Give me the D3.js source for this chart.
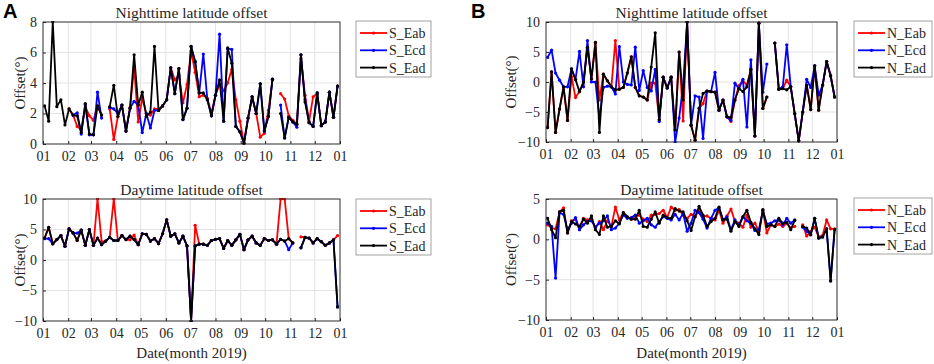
<!DOCTYPE html>
<html><head><meta charset="utf-8">
<script src="https://cdn.jsdelivr.net/npm/d3@7"></script>
<style>
body{margin:0;background:#fff}
svg{display:block;font-family:"Liberation Serif","Times New Roman",serif}
</style></head><body>
<svg id="chart" width="934" height="364"></svg>
<script>
// observation days (days after 1 Jan 2019)
const days = [2,7,12,17,22,27,32,37,42,47, 52,57,62,67,72,77,82,87,92,97,
  102,107,112,117,122,127,132,137,142,147, 152,157,162,167,172,177,182,187,192,197,
  202,207,212,217,222,227,232,237,242,247, 252,257,262,267,272,277,282,287,292,297,
  302,307,312,317,322,327,332,337,342,347, 352,357,362];

// A: southern hemisphere, nighttime
const sEabN = [null,null,null,null,null,null,2.3,1.9,1.15,0.95,
  2.45,1.85,1.55,2.5,1.9,null,2.3,0.3,1.8,2.55,
  0.85,2.4,5.0,1.45,3.0,2.0,1.9,2.3,2.3,2.5,
  2.9,5.0,4.2,4.5,2.7,3.9,6.1,4.7,3.1,3.2,
  3.0,2.0,3.2,3.9,3.5,4.0,4.9,2.9,1.5,0.05,
  1.7,3.1,2.0,0.45,0.7,2.2,4.2,null,3.3,2.95,
  1.85,1.55,1.3,5.6,3.2,1.5,3.1,3.3,1.2,1.45,
  3.4,1.75,3.8];
const sEcdN = [null,null,null,null,null,null,null,1.9,2.05,0.65,
  2.6,0.6,0.6,3.4,1.7,null,2.4,2.3,2.0,2.55,
  0.85,2.35,2.8,2.55,0.75,2.0,1.05,2.2,2.2,2.5,
  2.9,5.0,3.3,4.95,1.6,2.35,6.4,5.4,3.35,5.9,
  2.9,1.85,3.2,7.2,1.5,6.25,6.2,1.15,0.8,0.05,
  1.7,3.1,2.0,3.95,0.85,1.8,4.25,null,2.55,0.4,
  1.75,1.45,1.1,5.85,2.9,1.4,1.15,3.35,1.2,1.45,
  3.4,1.75,3.8];
const sEadN = [2.5,1.5,8.0,2.45,2.9,1.25,2.3,1.9,1.85,0.75,
  2.65,0.65,0.6,2.5,1.9,null,2.45,3.85,1.8,2.55,
  0.85,2.35,5.85,2.55,3.4,1.8,2.1,6.4,2.2,2.5,
  2.9,5.0,3.3,4.95,1.6,2.35,6.4,5.4,3.35,3.35,
  2.9,1.85,3.2,4.2,1.5,6.3,5.3,1.15,0.8,0.05,
  1.7,3.1,2.0,3.95,0.85,1.8,4.25,null,2.0,0.4,
  1.75,1.45,1.3,5.85,2.75,1.4,1.15,3.35,1.2,1.45,
  3.4,1.75,3.8];

// A: southern hemisphere, daytime
const sEabD = [3.6,5.35,2.65,3.35,4.0,2.25,5.1,4.45,3.2,4.9,
  2.4,5.0,2.4,10,3.0,3.1,3.7,10,3.2,4.0,
  3.35,3.3,4.1,2.5,4.3,4.2,3.1,3.5,2.7,4.3,
  6.6,3.9,4.3,2.8,3.9,2.3,-10,5.7,2.6,2.6,
  2.4,3.2,3.4,3.5,1.9,3.2,2.4,3.3,4.2,1.7,
  3.3,3.9,2.8,2.4,3.5,3.2,3.3,2.6,10,10,
  3.5,2.8,null,3.8,3.7,3.6,2.8,3.5,3.0,2.4,
  2.8,3.3,4.0];
const sEcdD = [3.5,3.5,2.65,3.35,4.0,2.25,5.1,4.4,4.4,4.9,
  2.4,5.0,2.4,3.6,2.5,3.1,3.7,3.2,3.2,4.0,
  3.35,3.9,3.35,2.5,4.3,4.2,3.1,3.5,2.7,4.3,
  6.6,3.9,4.3,2.8,3.9,2.3,-10,2.3,2.6,2.6,
  2.4,3.2,3.4,3.5,1.9,3.2,2.4,3.3,4.2,1.7,
  3.3,3.9,2.8,2.4,3.5,3.2,3.3,2.6,3.4,3.1,
  1.7,2.8,null,2.0,3.7,3.6,2.8,3.5,3.0,2.4,
  2.8,3.3,-7.7];
const sEadD = [3.6,5.35,2.65,3.35,4.0,2.25,5.1,4.45,3.2,4.9,
  2.4,5.0,2.4,3.6,2.5,3.1,3.7,3.2,3.2,4.0,
  3.35,3.9,3.35,2.5,4.3,4.2,3.1,3.5,2.7,4.3,
  6.6,3.9,4.3,2.8,3.9,2.3,-10,2.3,2.6,2.6,
  2.4,3.2,3.4,3.5,1.9,3.2,2.4,3.3,4.2,1.7,
  3.3,3.9,2.8,2.4,3.5,3.2,3.3,2.6,3.4,3.1,
  3.5,2.8,null,2.0,3.7,3.6,2.8,3.5,3.0,2.4,
  2.8,3.3,-7.7];

// B: northern hemisphere, nighttime
const nEabN = [-7.6,1.7,-8.4,-4.5,-0.8,-6.4,0.9,-2.6,-1.6,0.0,
  5.8,0.5,6.6,-3.0,1.3,0.2,-0.8,6.9,-1.2,-0.9,
  1.5,4.2,-0.9,-2.3,-2.5,-3.0,-0.2,-0.2,-6.3,0.8,
  -1.0,0.8,-8.0,5.0,-6.5,10,-7.2,-9.7,-4.4,-3.6,
  -1.5,-1.6,-1.7,-4.7,-3.0,-5.8,-6.6,-3.0,-0.6,0.2,
  -0.5,2.1,-9.0,9.8,-4.4,-2.5,null,6.5,-1.2,-1.1,
  0.3,-0.8,-5.3,-9.8,-5.0,-0.5,-4.6,2.7,-4.7,-0.5,
  3.4,1.2,-2.5];
const nEcdN = [4.1,5.3,1.5,0.3,-0.8,-0.8,2.2,0.4,5.1,-0.8,
  6.9,0.0,0.0,-6.1,-0.9,-0.7,-0.8,-2.0,5.9,0.0,
  -0.4,-0.5,5.8,-1.4,1.9,-0.9,-1.5,2.1,-6.6,0.8,
  -1.0,0.8,-10.0,-6.0,-0.5,10,-7.2,-2.3,-2.5,-9.4,
  -1.5,-1.6,1.6,-4.7,-3.0,-5.8,-6.4,-0.2,-1.1,0.45,
  -7.5,3.7,-9.0,9.8,-1.7,3.0,null,6.5,-1.2,-0.8,
  6.2,-0.8,-5.3,-9.8,-5.0,0.45,-0.9,2.7,-2.2,-0.5,
  3.4,1.0,-2.5];
const nEadN = [-7.6,1.7,-8.4,-4.5,-0.8,-6.4,2.2,0.4,-1.6,0.0,
  5.8,0.5,6.6,-8.4,1.3,0.2,-0.8,-1.3,-1.2,-0.9,
  1.5,4.2,-0.9,-2.3,-2.5,-3.0,2.5,8.2,-6.3,0.8,
  -1.0,0.8,-8.0,5.0,-3.0,10,-7.2,-9.7,-4.4,-1.9,
  -1.5,-1.6,-1.7,-4.7,-3.0,-5.8,-5.9,-3.0,-1.1,-1.6,
  -0.8,2.1,-9.0,9.8,-4.4,-2.5,null,6.5,-1.2,-1.1,
  -1.3,-0.8,-5.3,-9.8,-5.0,-0.5,-4.6,2.7,-4.7,-0.5,
  3.4,1.0,-2.5];

// B: northern hemisphere, daytime
const nEabD = [1.8,1.4,1.3,3.4,3.9,0.8,2.3,2.5,1.2,2.6,
  2.4,2.5,1.4,2.2,1.2,2.3,1.6,4.0,2.4,3.3,
  2.8,2.5,2.9,3.0,2.5,2.2,3.0,3.1,3.2,3.6,
  2.7,4.0,3.6,3.7,3.0,2.6,3.1,2.8,3.7,2.8,
  2.9,2.6,2.4,3.6,2.0,2.9,3.75,2.2,2.0,1.5,
  3.0,1.5,2.0,1.0,3.6,0.8,1.8,1.6,1.9,1.6,
  2.0,1.4,1.6,null,1.8,0.4,1.0,1.5,0.3,0.5,
  2.4,1.3,1.3];
const nEcdD = [2.0,1.6,-4.8,3.3,3.1,1.2,2.0,2.7,1.2,1.8,
  2.2,2.3,1.5,2.0,2.3,2.9,1.2,1.4,2.0,3.0,
  2.6,2.7,3.0,2.0,2.3,2.6,1.8,1.5,2.2,2.8,
  2.6,2.4,3.1,2.4,3.2,1.0,2.0,3.6,3.3,2.5,
  1.4,2.6,3.6,3.9,2.4,2.8,1.2,2.4,1.8,2.8,
  2.3,2.0,1.1,1.2,3.5,1.9,2.0,2.3,2.4,1.8,
  2.6,2.0,2.4,null,1.5,1.0,0.6,2.6,0.15,0.3,
  1.3,-5.15,1.2];
const nEadD = [2.6,1.2,0.2,3.4,3.6,0.8,2.2,1.9,1.6,2.5,
  2.0,2.9,1.2,0.6,2.9,1.5,1.6,2.3,1.9,3.3,
  2.8,2.5,2.5,3.6,1.6,1.5,2.5,3.4,2.0,3.0,
  2.7,2.6,3.8,3.5,3.4,2.3,1.1,2.8,4.1,3.0,
  1.6,2.2,2.6,4.0,2.4,2.5,1.0,2.2,1.6,2.8,
  3.6,2.1,1.3,0.6,3.7,1.6,1.8,1.6,2.6,2.0,
  2.1,1.2,2.35,null,1.6,1.4,0.55,2.6,0.15,0.3,
  1.3,-5.15,1.2];

const sNames = ['S_Eab', 'S_Ecd', 'S_Ead'];
const nNames = ['N_Eab', 'N_Ecd', 'N_Ead'];
const COLORS = ['#ff0000', '#0000ff', '#000000'];

const panels = [
  { box: [43, 340, 22, 144], yDomain: [0, 8], yTicks: [0, 2, 4, 6, 8], title: 'Nighttime latitude offset',
    names: sNames, series: [sEabN, sEcdN, sEadN], legend: [356, 21, 75], yLab: 25, xLab: false },
  { box: [43, 340, 199, 321], yDomain: [-10, 10], yTicks: [-10, -5, 0, 5, 10], title: 'Daytime latitude offset',
    names: sNames, series: [sEabD, sEcdD, sEadD], legend: [356, 199, 75], yLab: 25, xLab: true },
  { box: [546, 837, 22, 142], yDomain: [-10, 10], yTicks: [-10, -5, 0, 5, 10], title: 'Nighttime latitude offset',
    names: nNames, series: [nEabN, nEcdN, nEadN], legend: [854, 21, 78], yLab: 516, xLab: false },
  { box: [546, 837, 199, 320], yDomain: [-10, 5], yTicks: [-10, -5, 0, 5], title: 'Daytime latitude offset',
    names: nNames, series: [nEabD, nEcdD, nEadD], legend: [854, 198, 78], yLab: 516, xLab: true }
];

const svg = d3.select('#chart');
const dates = days.map(d => new Date(2019, 0, 1 + d));
const fmt = d3.timeFormat('%m');

panels.forEach((p, pi) => {
  const [x0, x1, y0, y1] = p.box;
  const x = d3.scaleTime().domain([new Date(2019, 0, 1), new Date(2020, 0, 1)]).range([x0, x1]);
  const y = d3.scaleLinear().domain(p.yDomain).range([y1, y0]);
  const mTicks = x.ticks(d3.timeMonth.every(1));

  const g = svg.append('g');
  g.append('rect').attr('x', x0).attr('y', y0).attr('width', x1 - x0).attr('height', y1 - y0).attr('fill', '#fff');

  // grid
  g.selectAll('.gx').data(mTicks).join('line')
    .attr('x1', d => x(d)).attr('x2', d => x(d)).attr('y1', y0).attr('y2', y1)
    .attr('stroke', '#e3e3e3').attr('stroke-width', 1);
  g.selectAll('.gy').data(p.yTicks).join('line')
    .attr('x1', x0).attr('x2', x1).attr('y1', d => y(d)).attr('y2', d => y(d))
    .attr('stroke', '#e3e3e3').attr('stroke-width', 1);

  // series
  const clipId = 'clip' + pi;
  svg.append('clipPath').attr('id', clipId).append('rect')
    .attr('x', x0).attr('y', y0 - 1).attr('width', x1 - x0).attr('height', y1 - y0 + 2);
  const sg = g.append('g').attr('clip-path', `url(#${clipId})`);
  const line = d3.line().defined(d => d[1] != null).x(d => x(d[0])).y(d => y(d[1]));
  p.series.forEach((vals, si) => {
    const pts = dates.map((d, i) => [d, vals[i]]);
    sg.append('path').datum(pts).attr('d', line).attr('fill', 'none')
      .attr('stroke', COLORS[si]).attr('stroke-width', 1.8).attr('stroke-linejoin', 'round');
    sg.selectAll(null).data(pts.filter(d => d[1] != null)).join('circle')
      .attr('cx', d => x(d[0])).attr('cy', d => y(d[1])).attr('r', 1.6).attr('fill', COLORS[si]);
  });

  // frame and ticks
  g.append('rect').attr('x', x0).attr('y', y0).attr('width', x1 - x0).attr('height', y1 - y0)
    .attr('fill', 'none').attr('stroke', '#262626').attr('stroke-width', 0.9);
  const xAxis = g.append('g').attr('transform', `translate(0,${y1})`)
    .call(d3.axisBottom(x).tickValues(mTicks).tickFormat(fmt).tickSizeInner(-3).tickSizeOuter(0).tickPadding(7));
  const yAxis = g.append('g').attr('transform', `translate(${x0},0)`)
    .call(d3.axisLeft(y).tickValues(p.yTicks).tickSizeInner(-3).tickSizeOuter(0).tickPadding(6));
  [xAxis, yAxis].forEach(a => {
    a.select('.domain').remove();
    a.selectAll('line').attr('stroke', '#262626');
    a.selectAll('text').attr('font-size', 14).attr('fill', '#262626')
      .attr('font-family', '"Liberation Serif","Times New Roman",serif');
  });

  // title
  g.append('text').attr('x', (x0 + x1) / 2).attr('y', y0 - 4).attr('text-anchor', 'middle')
    .attr('font-size', 15.5).attr('fill', '#262626').text(p.title);

  // y label
  g.append('text').attr('transform', `translate(${p.yLab},${(y0 + y1) / 2}) rotate(-90)`)
    .attr('text-anchor', 'middle').attr('font-size', 15).attr('fill', '#262626').text('Offset(°)');

  if (p.xLab) {
    g.append('text').attr('x', (x0 + x1) / 2).attr('y', 358).attr('text-anchor', 'middle')
      .attr('font-size', 15).attr('fill', '#262626').text('Date(month 2019)');
  }

  // legend
  const [lx, ly, lw] = p.legend;
  const lg = g.append('g');
  lg.append('rect').attr('x', lx).attr('y', ly).attr('width', lw).attr('height', 56)
    .attr('fill', '#fff').attr('stroke', '#8c8c8c').attr('stroke-width', 0.8);
  p.names.forEach((nm, si) => {
    const cy = ly + 12 + si * 17.3;
    lg.append('line').attr('x1', lx + 4).attr('x2', lx + 31).attr('y1', cy).attr('y2', cy)
      .attr('stroke', COLORS[si]).attr('stroke-width', 1.8);
    lg.append('circle').attr('cx', lx + 17.5).attr('cy', cy).attr('r', 1.6).attr('fill', COLORS[si]);
    lg.append('text').attr('x', lx + 33).attr('y', cy + 5).attr('font-size', 14)
      .attr('fill', '#262626').text(nm);
  });
});

// panel letters
svg.append('text').attr('x', 3).attr('y', 18).attr('font-family', '"Liberation Sans",Arial,sans-serif')
  .attr('font-weight', 'bold').attr('font-size', 20).text('A');
svg.append('text').attr('x', 471).attr('y', 18).attr('font-family', '"Liberation Sans",Arial,sans-serif')
  .attr('font-weight', 'bold').attr('font-size', 20).text('B');
</script>
</body></html>
